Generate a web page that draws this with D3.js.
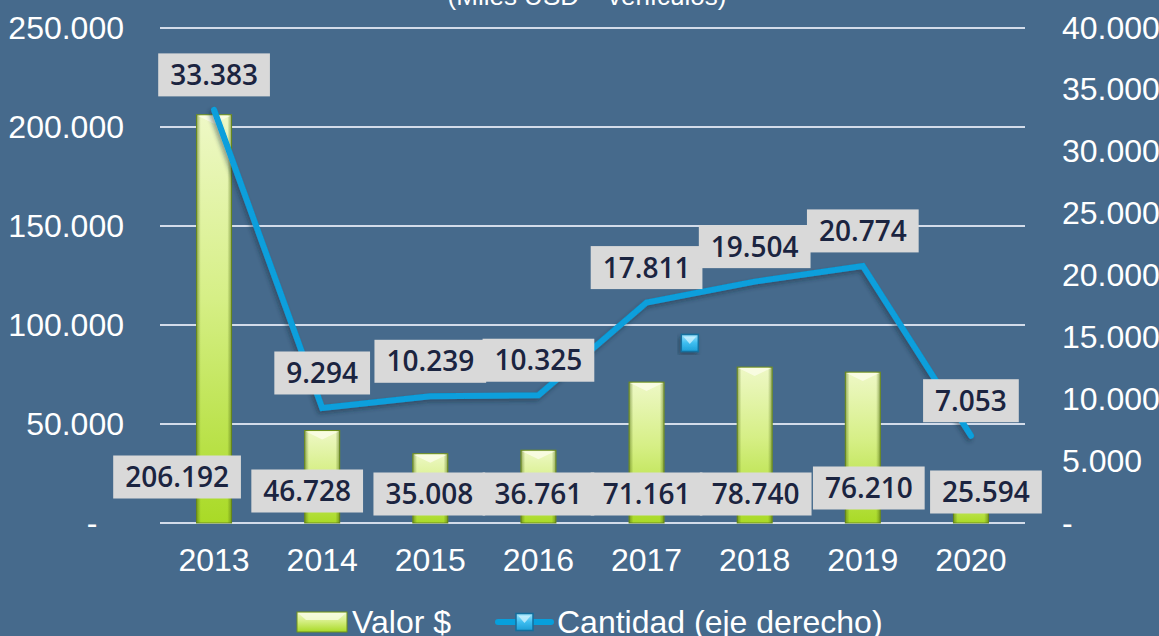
<!DOCTYPE html>
<html><head><meta charset="utf-8">
<script src="https://cdn.jsdelivr.net/npm/d3@7"></script>
<style>
html,body{margin:0;padding:0;background:#466a8c;overflow:hidden}
svg{display:block}
</style></head>
<body>
<svg id="chart" width="1159" height="636"></svg>
<script>
// ---- data ----
const years = ["2013","2014","2015","2016","2017","2018","2019","2020"];
const valor = [206192, 46728, 35008, 36761, 71161, 78740, 76210, 25594];
const cantidad = [33383, 9294, 10239, 10325, 17811, 19504, 20774, 7053];
const leftTicks = [0, 50000, 100000, 150000, 200000, 250000];
const rightTicks = [0, 5000, 10000, 15000, 20000, 25000, 30000, 35000, 40000];
const titleText = "(Miles USD – vehículos)";
const legendLabels = ["Valor $", "Cantidad (eje derecho)"];
// stray marker present in the original picture (right-axis value)
const strayMarker = {after: "2017", value: 14545};
// manual label placement (layout)
const barLabelDx = [-37, -15, -1, 0, 0, 1, 6, 15];
const barLabelDy = [-46, -32, -29, -29, -29, -29, -35, -31];

const fmt = v => v === 0 ? "-" : d3.format(",")(v).replace(/,/g, ".");

const svg = d3.select("#chart");
const plotL = 160, plotR = 1025, plotT = 28, plotB = 523;

const x = d3.scaleBand().domain(years).range([plotL, plotR]).padding(0);
const yL = d3.scaleLinear().domain([0, 250000]).range([plotB, plotT]);
const yR = d3.scaleLinear().domain([0, 40000]).range([plotB, plotT]);

// defs
const defs = svg.append("defs");
const gV = defs.append("linearGradient").attr("id","barV").attr("x1",0).attr("y1",0).attr("x2",0).attr("y2",1);
gV.append("stop").attr("offset","0%").attr("stop-color","#eef8c6");
gV.append("stop").attr("offset","45%").attr("stop-color","#d6ef86");
gV.append("stop").attr("offset","100%").attr("stop-color","#a9da26");
const gH = defs.append("linearGradient").attr("id","barH").attr("x1",0).attr("y1",0).attr("x2",1).attr("y2",0);
gH.append("stop").attr("offset","0%").attr("stop-color","#4d6a10").attr("stop-opacity",0.55);
gH.append("stop").attr("offset","12%").attr("stop-color","#4d6a10").attr("stop-opacity",0.0);
gH.append("stop").attr("offset","88%").attr("stop-color","#4d6a10").attr("stop-opacity",0.0);
gH.append("stop").attr("offset","100%").attr("stop-color","#4d6a10").attr("stop-opacity",0.55);
const sh = defs.append("filter").attr("id","shadow").attr("x","-20%").attr("y","-20%").attr("width","140%").attr("height","140%");
sh.append("feDropShadow").attr("dx",-2).attr("dy",3).attr("stdDeviation",2).attr("flood-color","#1a2a3a").attr("flood-opacity",0.45);
const gM = defs.append("linearGradient").attr("id","mk").attr("x1",0).attr("y1",0).attr("x2",0).attr("y2",1);
gM.append("stop").attr("offset","0%").attr("stop-color","#9fe4fb");
gM.append("stop").attr("offset","50%").attr("stop-color","#3dbdf0");
gM.append("stop").attr("offset","100%").attr("stop-color","#1d9ed6");

// title (clipped at top as in the original)
svg.append("text").attr("x", 587).attr("y", 5)
  .attr("text-anchor","middle").attr("font-family","Liberation Sans, Arial, sans-serif")
  .attr("font-size", 26).attr("fill","#ffffff").text(titleText);

// gridlines
svg.append("g").selectAll("line").data(leftTicks).join("line")
  .attr("x1", plotL).attr("x2", plotR)
  .attr("y1", d => yL(d)).attr("y2", d => yL(d))
  .attr("stroke","#d3dcea").attr("stroke-width",2);

// axes
const axisFont = "Liberation Sans, Arial, sans-serif";
const axL = svg.append("g").attr("transform", `translate(124,0)`)
  .call(d3.axisLeft(yL).tickValues(leftTicks).tickSize(0).tickPadding(0).tickFormat(d => d === 0 ? "-   " : fmt(d)));
axL.select(".domain").remove();
axL.selectAll("text").attr("font-family", axisFont).attr("font-size", 32).attr("fill","#ffffff")
  .attr("dy", null).attr("y", 10).style("white-space","pre");

const axR = svg.append("g").attr("transform", `translate(1062,0)`)
  .call(d3.axisRight(yR).tickValues(rightTicks).tickSize(0).tickPadding(0).tickFormat(fmt));
axR.select(".domain").remove();
axR.selectAll("text").attr("font-family", axisFont).attr("font-size", 32).attr("fill","#ffffff")
  .attr("dy", null).attr("y", 10);

const axB = svg.append("g").attr("transform", `translate(0,${plotB})`)
  .call(d3.axisBottom(x).tickSize(0).tickPadding(0));
axB.select(".domain").remove();
axB.selectAll("text").attr("font-family", axisFont).attr("font-size", 32).attr("fill","#ffffff")
  .attr("dy", null).attr("y", 48);

// bars
const bw = 35;
const bars = svg.append("g").selectAll("g").data(years).join("g");
bars.append("rect")
  .attr("x", d => x(d) + x.bandwidth()/2 - bw/2)
  .attr("y", (d,i) => yL(valor[i]))
  .attr("width", bw).attr("height", (d,i) => yL(0) - yL(valor[i]))
  .attr("fill","url(#barV)").attr("stroke","#6f8f1c").attr("stroke-width",1);
bars.append("rect")
  .attr("x", d => x(d) + x.bandwidth()/2 - bw/2)
  .attr("y", (d,i) => yL(valor[i]))
  .attr("width", bw).attr("height", (d,i) => yL(0) - yL(valor[i]))
  .attr("fill","url(#barH)");
bars.append("path")
  .attr("d", (d,i) => {
    const x0 = x(d) + x.bandwidth()/2 - bw/2, y0 = yL(valor[i]);
    return `M${x0+1},${y0+1} L${x0+bw-1},${y0+1} L${x0+bw/2},${y0+9} Z`;
  }).attr("fill","#fbfde9").attr("opacity",0.8);

// line
const line = d3.line().x((d,i) => x(years[i]) + x.bandwidth()/2).y(d => yR(d));
svg.append("path").datum(cantidad).attr("d", line)
  .attr("fill","none").attr("stroke","#079fdc").attr("stroke-width",6)
  .attr("stroke-linejoin","miter").attr("stroke-linecap","round").attr("filter","url(#shadow)");

function marker(g, cx, cy, s) {
  g.append("rect").attr("x", cx - s/2).attr("y", cy - s/2).attr("width", s).attr("height", s)
    .attr("fill","url(#mk)").attr("stroke","#136f9e").attr("stroke-width",1.5);
  g.append("path").attr("d", `M${cx-s/2+2},${cy-s/2+2} L${cx+s/2-2},${cy-s/2+2} L${cx},${cy+1} Z`)
    .attr("fill","#d8f5ff").attr("opacity",0.7);
}
{
  const g = svg.append("g").attr("filter","url(#shadow)");
  marker(g, x(strayMarker.after) + x.bandwidth()*0.9, yR(strayMarker.value), 17);
}

// labels
const lblFont = "Open Sans, Lato, sans-serif";
function label(cx, cy, txt) {
  const g = svg.append("g");
  const rect = g.append("rect").attr("fill","#d9d9d9");
  const t = g.append("text").attr("x", cx).attr("y", cy + 10).attr("text-anchor","middle")
    .attr("font-family", lblFont).attr("font-size", 28).attr("font-weight", 600)
    .attr("fill","#1b2440").text(txt);
  const w = t.node().getComputedTextLength();
  rect.attr("x", cx - w/2 - 12).attr("y", cy - 21.5).attr("width", w + 24).attr("height", 43);
}
years.forEach((yr, i) => {
  label(x(yr) + x.bandwidth()/2 + barLabelDx[i], yL(0) + barLabelDy[i], fmt(valor[i]));
});
years.forEach((yr, i) => {
  label(x(yr) + x.bandwidth()/2, yR(cantidad[i]) - 35, fmt(cantidad[i]));
});

// legend
const lg = svg.append("g");
lg.append("rect").attr("x", 297).attr("y", 612).attr("width", 50).attr("height", 20)
  .attr("fill","url(#barV)").attr("stroke","#6f8f1c");
lg.append("path").attr("d","M298,613 L346,613 L338,620 L306,620 Z").attr("fill","#fbfde9").attr("opacity",0.7);
lg.append("text").attr("x", 352).attr("y", 633).attr("font-family", axisFont).attr("font-size", 32)
  .attr("fill","#ffffff").text(legendLabels[0]);
lg.append("line").attr("x1", 498).attr("x2", 551).attr("y1", 622).attr("y2", 622)
  .attr("stroke","#079fdc").attr("stroke-width",6).attr("stroke-linecap","round");
marker(lg, 524.5, 622, 17);
lg.append("text").attr("x", 557).attr("y", 633).attr("font-family", axisFont).attr("font-size", 32)
  .attr("fill","#ffffff").text(legendLabels[1]);
</script>
</body></html>
